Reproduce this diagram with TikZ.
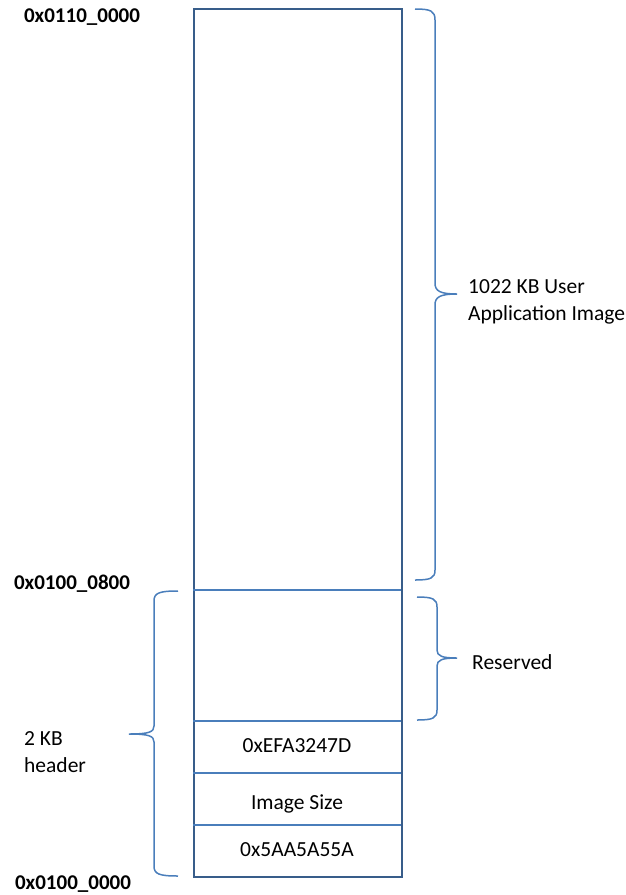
\documentclass[tikz,border=0pt]{standalone}
\usepackage{fontspec}
\setmainfont{Carlito}
\begin{document}
\begin{tikzpicture}[x=1pt,y=-1pt,
  every node/.style={font=\fontsize{21.5}{26}\selectfont, inner sep=0pt},
  addr/.style={font=\fontsize{21}{25}\selectfont\bfseries},
  lbl/.style={align=left, anchor=west, font=\fontsize{21.5}{27}\selectfont},
  outer/.style={draw={rgb,255:red,56;green,93;blue,138}, line width=2pt},
  field/.style={draw={rgb,255:red,74;green,126;blue,187}, line width=1.3pt},
  brc/.style={draw={rgb,255:red,74;green,126;blue,187}, line width=1.5pt}]
\useasboundingbox (0,0) rectangle (625,895);
% memory block
\node[outer, minimum width=208pt, minimum height=868pt, anchor=north west] (mem) at (193,8) {};
\coordinate (l1) at (193,590); \coordinate (r1) at (401,590);
\coordinate (l2) at (193,721); \coordinate (r2) at (401,721);
\coordinate (l3) at (193,773); \coordinate (r3) at (401,773);
\coordinate (l4) at (193,825); \coordinate (r4) at (401,825);
\draw[field] (l1) -- (r1);
\draw[field] (l2) -- (r2);
\draw[field] (l3) -- (r3);
\draw[field] (l4) -- (r4);
\node (magic1) at (297,746) {0xEFA3247D};
\node (isize) at (297,804) {Image Size};
\node (magic2) at (297,850) {0x5AA5A55A};
% addresses
\node[addr] (a1) at (82,17) {0x0110\_0000};
\node[addr] (a2) at (72,584) {0x0100\_0800};
\node[addr] (a3) at (73,884) {0x0100\_0000};
% right brace: user application
\draw[brc] (415,9) .. controls (431,9) and (435,11) .. (435,20) -- (435,283)
  .. controls (435,291) and (440,294) .. (457,294)
  .. controls (440,294) and (435,297) .. (435,305) -- (435,570)
  .. controls (435,578) and (431,580) .. (415,580);
\node[lbl] (app) at (468,302) {1022 KB User\\Application Image};
% right brace: reserved
\draw[brc] (417,597) .. controls (433,597) and (437,599) .. (437,607) -- (437,650)
  .. controls (437,656) and (442,658) .. (457,658)
  .. controls (442,658) and (437,660) .. (437,666) -- (437,710)
  .. controls (437,718) and (433,720) .. (417,720);
\node[lbl] (res) at (472,662) {Reserved};
% left brace: header
\draw[brc] (178,591) .. controls (159,591) and (154,593) .. (154,601) -- (154,726)
  .. controls (154,732) and (149,734) .. (129,734)
  .. controls (149,734) and (154,736) .. (154,742) -- (154,866)
  .. controls (154,874) and (159,876) .. (178,876);
\node[lbl] (hdr) at (24,752) {2 KB\\header};
\end{tikzpicture}
\end{document}
